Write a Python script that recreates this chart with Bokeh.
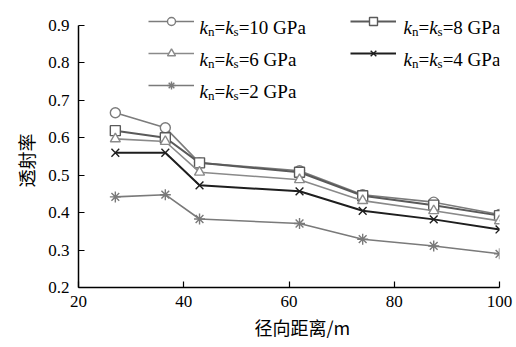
from bokeh.plotting import figure
from bokeh.models import Legend, LegendItem, Label, Range1d, FixedTicker, Title
from bokeh.embed import file_html
from bokeh.resources import INLINE

# ---- data ----
distance = [27, 36.5, 43, 62, 74, 87.5, 100]
k10 = [0.667, 0.627, 0.533, 0.512, 0.448, 0.428, 0.395]
k8 = [0.619, 0.600, 0.533, 0.508, 0.445, 0.420, 0.392]
k6 = [0.597, 0.590, 0.508, 0.488, 0.432, 0.405, 0.378]
k4 = [0.560, 0.560, 0.473, 0.457, 0.405, 0.382, 0.355]
k2 = [0.442, 0.448, 0.383, 0.371, 0.329, 0.311, 0.290]
stiffness = ["10", "8", "6", "4", "2"]
x_ticks = [20, 40, 60, 80, 100]
y_ticks = [0.2, 0.3, 0.4, 0.5, 0.6, 0.7, 0.8, 0.9]
x_title = "径向距离/m"
y_title = "透射率"

W, H = 516, 347
L, R, T, B = 78, 17, 5, 60
AXIS_TOP = 25  # pixel row of y = 0.9
X0, X1, Y0, Y1 = 20, 100, 0.2, 0.9
ppu = (H - B - AXIS_TOP) / (Y1 - Y0)
Y1R = Y1 + (AXIS_TOP - T) / ppu

p = figure(width=W, height=H, output_backend="svg", toolbar_location=None,
           x_range=Range1d(X0, X1), y_range=Range1d(Y0, Y1R),
           min_border_left=L, min_border_right=R, min_border_top=T, min_border_bottom=B)
p.outline_line_color = None
p.grid.visible = False
p.background_fill_color = "white"
p.border_fill_color = "white"

p.axis.axis_line_color = "black"
p.axis.axis_line_width = 1.5
p.axis.major_tick_line_color = "black"
p.axis.major_tick_line_width = 1.2
p.axis.major_tick_in = 6
p.axis.major_tick_out = 0
p.axis.minor_tick_line_color = None
p.axis.major_label_text_font = "Liberation Serif"
p.axis.major_label_text_font_size = "17px"
p.axis.major_label_text_color = "black"

p.xaxis.ticker = FixedTicker(ticks=x_ticks)
p.yaxis.ticker = FixedTicker(ticks=y_ticks)
p.yaxis.bounds = (Y0, Y1)
p.yaxis.major_label_overrides = {t: f"{t:.1f}" for t in y_ticks}
p.xaxis.major_label_standoff = 8
p.yaxis.major_label_standoff = 9

# axis titles as side-panel titles, left-aligned with an offset so they sit
# where the reference has them
TS = 18
y_title_len = len(y_title) * TS
p.add_layout(Title(text=y_title, align="left", text_font="Noto Sans CJK SC",
                   text_font_size=f"{TS}px", text_font_style="normal", text_color="black",
                   offset=(H - B) - (160 + y_title_len / 2), standoff=14), "left")
x_title_len = 4 * TS + 20
p.add_layout(Title(text=x_title, align="left", text_font="Noto Sans CJK SC",
                   text_font_size=f"{TS}px", text_font_style="normal", text_color="black",
                   offset=(300 - x_title_len / 2) - L, standoff=4), "below")

series = [k10, k8, k6, k4, k2]
colors = ["#7c7c7c", "#5a5a5a", "#8a8a8a", "#1e1e1e", "#7a7a7a"]
markers = ["circle", "square", "triangle", "x", "asterisk"]
sizes = [10, 10, 10, 11, 11]
widths = [1.6, 2.0, 1.6, 2.0, 1.6]

items = []
for ys, c, m, s, w in zip(series, colors, markers, sizes, widths):
    ln = p.line(distance, ys, line_color=c, line_width=w)
    sc = p.scatter(distance, ys, marker=m, size=s, line_color=c, line_width=1.4,
                   fill_color="white")
    items.append(LegendItem(label=" ", renderers=[ln, sc]))

# legend fills column-major: column 1 = 10, 6, 2; column 2 = 8, 4
items = [items[0], items[2], items[4], items[1], items[3]]

col_w = 202
glyph_w = 46
standoff = 6
row_pitch = 32.5
gh = 20
sp = round(row_pitch - gh)
leg_left, leg_top_line = 148, 21
legend = Legend(items=items, ncols=2, glyph_width=glyph_w, glyph_height=gh,
                label_height=gh, label_standoff=standoff, spacing=sp,
                label_width=int(col_w - glyph_w - standoff - sp),
                padding=0, margin=0, border_line_color=None,
                background_fill_alpha=0, label_text_font_size="1px")
leg_h = 3 * gh + 2 * sp
legend.location = (leg_left - L, (H - B) - (leg_top_line - gh / 2 + leg_h))
p.add_layout(legend, "center")

# px -> data helpers for legend text placement
fw = W - L - R
def dx(px):
    return X0 + (px - L) / fw * (X1 - X0)
def dy(py):
    return Y0 + (H - B - py) / ppu

fs = 19
sub = 13
text_starts = [(199, 0), (403, 0), (199, 1), (403, 1), (199, 2)]
for k, (x0, row) in zip(stiffness, text_starts):
    base = leg_top_line + row * (gh + sp) + 6
    pieces = [("k", fs, "italic", 0), ("n", sub, "normal", 4), ("=", fs, "normal", 0),
              ("k", fs, "italic", 0), ("s", sub, "normal", 4), (f"={k} GPa", fs, "normal", 0)]
    adv = {"k": 0.444 * fs, "n": 0.5 * sub, "=": 0.564 * fs, "s": 0.389 * sub}
    x = x0
    for txt, size, style, drop in pieces:
        p.add_layout(Label(x=dx(x), y=dy(base + drop), text=txt,
                           text_font="Liberation Serif", text_font_size=f"{size}px",
                           text_font_style=style, text_color="black",
                           text_baseline="alphabetic", text_align="left"))
        x += adv.get(txt, 0)

open("out.html", "w").write(file_html(p, INLINE))
